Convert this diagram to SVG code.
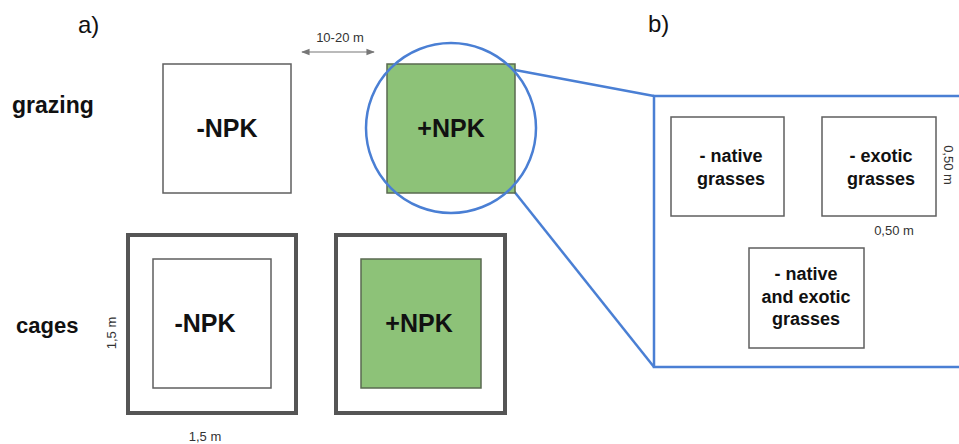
<svg xmlns="http://www.w3.org/2000/svg" width="959" height="444" viewBox="0 0 959 444">
<style>
text{font-family:"Liberation Sans",Arial,sans-serif;fill:#111}
.b{font-weight:bold}
.plot{fill:#fff;stroke:#5f5f5f;stroke-width:1.5}
.green{fill:#8dc278;stroke:#5a6a50;stroke-width:1.5}
.cage{fill:none;stroke:#555;stroke-width:4}
.blue{fill:none;stroke:#4a7fd4;stroke-width:2.5}
.sm{font-size:13px;fill:#333}
.npk{font-size:25px;font-weight:bold;text-anchor:middle}
.g{font-size:18px;font-weight:bold;text-anchor:middle}
</style>
<defs>
<marker id="ah" viewBox="0 0 10 10" refX="9" refY="5" markerWidth="7" markerHeight="7" orient="auto-start-reverse">
<path d="M0,1 L10,5 L0,9 z" fill="#777"/>
</marker>
</defs>
<rect width="959" height="444" fill="#fff"/>
<text x="78" y="33" font-size="24">a)</text>
<text x="648" y="32" font-size="24">b)</text>
<text x="12" y="113" class="b" font-size="23">grazing</text>
<text x="16" y="333" class="b" font-size="22">cages</text>

<g id="connectors">
<line x1="302" y1="52" x2="374" y2="52" stroke="#777" stroke-width="1.2" marker-start="url(#ah)" marker-end="url(#ah)"/>
<text x="340" y="42" class="sm" font-size="14.5" text-anchor="middle">10-20 m</text>
<line x1="515" y1="70" x2="654" y2="96" class="blue"/>
<line x1="513" y1="190" x2="654" y2="367" class="blue"/>
</g>

<g id="grazing-minus">
<rect x="163" y="64" width="128" height="129" class="plot"/>
<text x="227" y="137" class="npk">-NPK</text>
</g>
<g id="grazing-plus">
<rect x="387" y="64" width="128" height="129" class="green"/>
<text x="451" y="137" class="npk">+NPK</text>
</g>
<g id="zoom-circle">
<circle cx="451" cy="128" r="85" class="blue"/>
</g>

<g id="cage-minus">
<rect x="128" y="235" width="168" height="178" class="cage"/>
<rect x="153" y="259" width="118" height="129" class="plot"/>
<text x="205" y="332" class="npk">-NPK</text>
</g>
<g id="cage-plus">
<rect x="336" y="235" width="169" height="178" class="cage"/>
<rect x="361" y="259" width="120" height="129" class="green"/>
<text x="419" y="332" class="npk">+NPK</text>
</g>
<text x="0" y="0" class="sm" text-anchor="middle" transform="translate(116 333) rotate(-90)">1,5 m</text>
<text x="205" y="441" class="sm" text-anchor="middle">1,5 m</text>

<g id="panel-b">
<rect x="654" y="96" width="320" height="271" class="blue"/>
</g>
<g id="native">
<rect x="671" y="117" width="113" height="99" class="plot"/>
<text x="731" y="162" class="g">- native</text>
<text x="731" y="185" class="g">grasses</text>
</g>
<g id="exotic">
<rect x="822" y="117" width="114" height="99" class="plot"/>
<text x="881" y="162" class="g">- exotic</text>
<text x="881" y="185" class="g">grasses</text>
</g>
<text x="0" y="0" class="sm" text-anchor="middle" transform="translate(944 165) rotate(90)">0,50 m</text>
<text x="894" y="235" class="sm" text-anchor="middle">0,50 m</text>
<g id="both">
<rect x="749" y="248" width="115" height="100" class="plot"/>
<text x="806" y="280" class="g">- native</text>
<text x="806" y="303" class="g">and exotic</text>
<text x="806" y="325" class="g">grasses</text>
</g>
</svg>
